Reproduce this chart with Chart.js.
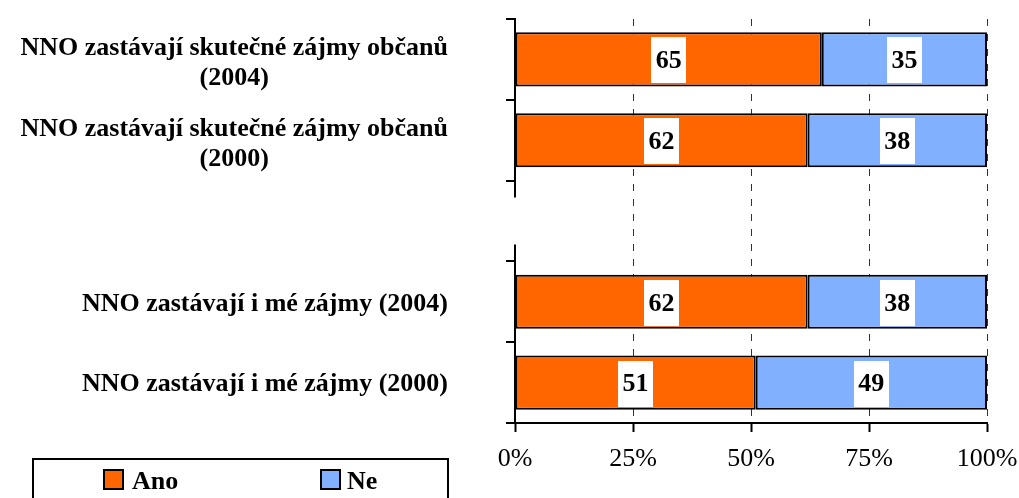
<!DOCTYPE html>
<html>
<head>
<meta charset="utf-8">
<script src="https://cdn.jsdelivr.net/npm/chart.js@4.4.1/dist/chart.umd.min.js"></script>
<style>
  html, body { margin: 0; padding: 0; background: #ffffff; }
  #wrap { position: relative; width: 1019px; height: 498px; }
</style>
</head>
<body>
<div id="wrap"><canvas id="c" width="1019" height="498"></canvas></div>
<script>
// ---- data ----
const categories = [
  ["NNO zastávají skutečné zájmy občanů", "(2004)"],
  ["NNO zastávají skutečné zájmy občanů", "(2000)"],
  [],
  ["NNO zastávají i mé zájmy (2004)"],
  ["NNO zastávají i mé zájmy (2000)"]
];
const seriesNames = ["Ano", "Ne"];
const anoValues = [65, 62, null, 62, 51];
const neValues = [35, 38, null, 38, 49];
const xTickLabels = ["0%", "25%", "50%", "75%", "100%"];

const seriesColors = ["#FF6600", "#80B0FF"];
const SERIF = "'Liberation Serif', 'Times New Roman', serif";
const FS = 26;

// y-axis line (with a break between the two groups), category labels
const customAxisPlugin = {
  id: 'customAxis',
  afterDraw(chart) {
    const ctx = chart.ctx;
    const y = chart.scales.y;
    const area = chart.chartArea;
    const step = (y.bottom - y.top) / categories.length;
    ctx.save();
    ctx.strokeStyle = '#000';
    ctx.lineWidth = 2;
    ctx.beginPath();
    ctx.moveTo(area.left, y.top - 1);
    ctx.lineTo(area.left, y.top + step * 2 + 17);
    ctx.moveTo(area.left, y.top + step * 3 - 17);
    ctx.lineTo(area.left, y.bottom + 1);
    ctx.stroke();

    // category labels
    ctx.font = 'bold ' + FS + 'px ' + SERIF;
    ctx.fillStyle = '#000';
    ctx.textAlign = 'center';
    ctx.textBaseline = 'middle';
    const blockRight = 448;
    categories.forEach((lines, i) => {
      if (!lines.length) return;
      const yc = y.getPixelForValue(i);
      const w = Math.max(...lines.map(l => ctx.measureText(l).width));
      const cx = blockRight - w / 2;
      const lh = 30;
      const first = yc - (lines.length - 1) * lh / 2 + (lines.length > 1 ? 4 : 2);
      lines.forEach((l, k) => ctx.fillText(l, cx, first + k * lh));
    });
    ctx.restore();
  }
};

// value labels in white boxes
const valueLabelPlugin = {
  id: 'valueLabels',
  afterDatasetsDraw(chart) {
    const ctx = chart.ctx;
    ctx.save();
    ctx.font = 'bold ' + FS + 'px ' + SERIF;
    ctx.textAlign = 'center';
    ctx.textBaseline = 'middle';
    chart.data.datasets.forEach((ds, di) => {
      const meta = chart.getDatasetMeta(di);
      meta.data.forEach((bar, i) => {
        const v = ds.data[i];
        if (v == null) return;
        const p = bar.getProps(['x', 'y', 'base'], true);
        const cx = (p.x + p.base) / 2;
        const txt = String(v);
        const tw = ctx.measureText(txt).width;
        const bw = tw + 9, bh = 46;
        ctx.fillStyle = '#fff';
        ctx.fillRect(Math.round(cx - bw / 2), Math.round(p.y - bh / 2 + 1), Math.round(bw), bh);
        ctx.fillStyle = '#000';
        ctx.fillText(txt, cx, p.y + 2);
      });
    });
    ctx.restore();
  }
};

// legend box
const legendBoxPlugin = {
  id: 'legendBox',
  afterDraw(chart) {
    const ctx = chart.ctx;
    ctx.save();
    ctx.strokeStyle = '#000';
    ctx.lineWidth = 2;
    ctx.strokeRect(33, 459, 415, 60);
    const items = [{ sx: 104, tx: 132 }, { sx: 321, tx: 347 }];
    ctx.font = 'bold ' + FS + 'px ' + SERIF;
    ctx.textAlign = 'left';
    ctx.textBaseline = 'alphabetic';
    chart.data.datasets.forEach((ds, di) => {
      const it = items[di];
      ctx.fillStyle = ds.backgroundColor;
      ctx.fillRect(it.sx, 470, 19, 19);
      ctx.strokeRect(it.sx, 470, 19, 19);
      ctx.fillStyle = '#000';
      ctx.fillText(ds.label, it.tx, 489);
    });
    ctx.restore();
  }
};

new Chart(document.getElementById('c'), {
  type: 'bar',
  data: {
    labels: categories.map(l => l.join(' ')),
    datasets: [
      { label: seriesNames[0], data: anoValues, backgroundColor: seriesColors[0] },
      { label: seriesNames[1], data: neValues, backgroundColor: seriesColors[1] }
    ]
  },
  options: {
    indexAxis: 'y',
    responsive: false,
    animation: false,
    devicePixelRatio: 1,
    layout: { padding: { top: 19, right: 32, left: 0, bottom: 0 } },
    datasets: {
      bar: {
        borderColor: '#000',
        borderWidth: 2,
        borderSkipped: false,
        categoryPercentage: 1,
        barPercentage: 0.67
      }
    },
    plugins: {
      legend: { display: false },
      tooltip: { enabled: false }
    },
    scales: {
      x: {
        stacked: true,
        min: 0,
        max: 100,
        afterFit(scale) { scale.height = 75; scale.paddingLeft = 0; scale.paddingRight = 0; },
        afterBuildTicks(scale) {
          scale.ticks = xTickLabels.map((t, i) => ({ value: i * 25 }));
        },
        ticks: {
          callback: (v, i) => xTickLabels[i],
          font: { family: SERIF, size: FS },
          color: '#000',
          padding: 12,
          maxRotation: 0
        },
        grid: {
          color: (c) => (c.tick && c.tick.value === 0) ? 'rgba(0,0,0,0)' : '#333',
          lineWidth: 1,
          tickColor: '#000',
          tickWidth: 2,
          tickBorderDash: [],
          tickLength: 9,
          drawTicks: true
        },
        border: { display: true, color: '#000', width: 2, dash: [7, 8] }
      },
      y: {
        stacked: true,
        afterFit(scale) { scale.width = 515; },
        ticks: { display: false },
        grid: {
          offset: true,
          drawOnChartArea: false,
          drawTicks: true,
          tickLength: 9,
          color: '#000',
          lineWidth: 2
        },
        border: { display: false }
      }
    }
  },
  plugins: [customAxisPlugin, valueLabelPlugin, legendBoxPlugin]
});
</script>
</body>
</html>
